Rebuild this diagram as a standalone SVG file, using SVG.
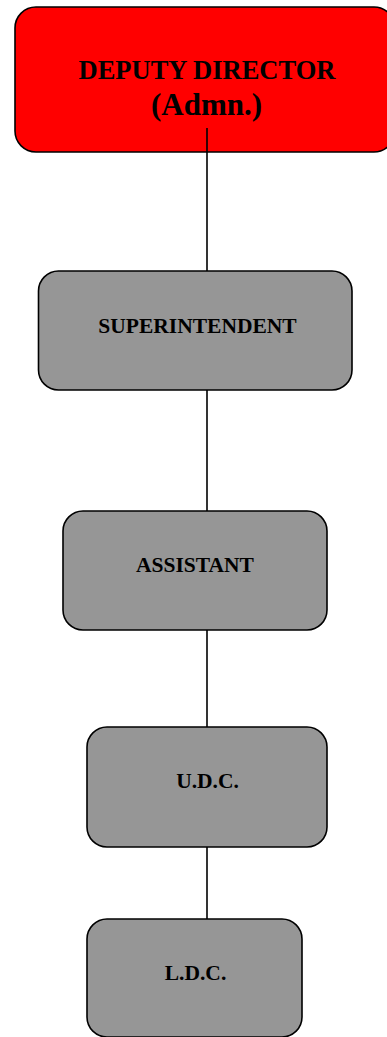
<svg xmlns="http://www.w3.org/2000/svg" width="387" height="1037" viewBox="0 0 387 1037">
<style>
.box{stroke:#000;stroke-width:1.6}
.red{fill:#ff0000}
.gray{fill:#969696}
.t{font-family:"Liberation Serif","Times New Roman",serif;font-weight:bold;fill:#000;text-anchor:middle}
.conn line{stroke:#000;stroke-width:1.6}
</style>
<rect width="387" height="1037" fill="#fff"/>
<g id="deputy-director">
<rect class="box red" x="15" y="7" width="380" height="145" rx="21"/>
</g>
<g id="superintendent">
<rect class="box gray" x="38.5" y="271" width="313.5" height="119" rx="20"/>
<text class="t" x="197.5" y="333" font-size="21.5">SUPERINTENDENT</text>
</g>
<g id="assistant">
<rect class="box gray" x="63" y="511" width="264" height="119" rx="20"/>
<text class="t" x="195" y="572" font-size="21.5">ASSISTANT</text>
</g>
<g id="udc">
<rect class="box gray" x="87" y="727" width="240" height="120" rx="20"/>
<text class="t" x="207.5" y="788" font-size="21.5">U.D.C.</text>
</g>
<g id="ldc">
<rect class="box gray" x="87" y="919" width="215" height="118" rx="20"/>
<text class="t" x="195.5" y="980" font-size="21.5">L.D.C.</text>
</g>
<g class="conn" id="connectors">
<line x1="207" y1="128" x2="207" y2="271"/>
<line x1="207" y1="390" x2="207" y2="511"/>
<line x1="207" y1="630" x2="207" y2="727"/>
<line x1="207" y1="847" x2="207" y2="919"/>
</g>
<g id="deputy-director-label">
<text class="t" x="207" y="79" font-size="26.5">DEPUTY DIRECTOR</text>
<text class="t" x="206.5" y="115" font-size="31">(Admn.)</text>
</g>
</svg>
